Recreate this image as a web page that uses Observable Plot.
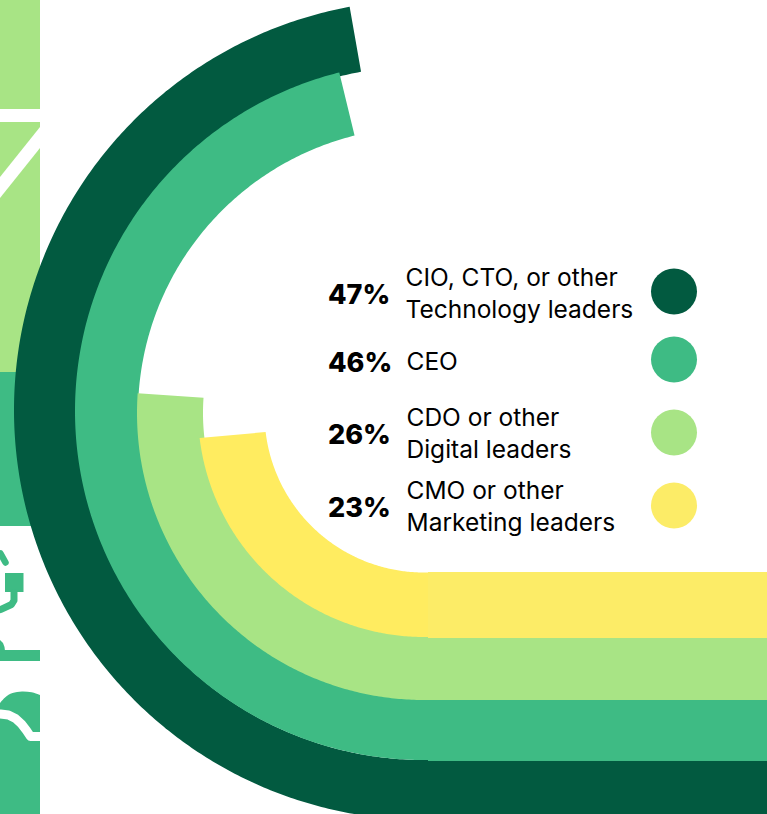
<!DOCTYPE html>
<html>
<head>
<meta charset="utf-8">
<script src="https://cdn.jsdelivr.net/npm/d3@7"></script>
<script src="https://cdn.jsdelivr.net/npm/@observablehq/plot@0.6"></script>
<style>html,body{margin:0;padding:0;background:#fff;overflow:hidden}svg{display:block}</style>
</head>
<body>
<div id="chart"></div>
<script>
// Chart data
const roles = ["CIO, CTO, or other\nTechnology leaders", "CEO", "CDO or other\nDigital leaders", "CMO or other\nMarketing leaders"];
const shares = [47, 46, 26, 23];

// Styles
const arcColors = ["#025A40", "#3EBB84", "#A8E485", "#FFEC60"];
const stripColors = ["#025A40", "#3EBB84", "#A8E485", "#FCEC67"];

// Layout
const W = 767, H = 814, CX = 424, CY = 413;
const innerR = [347, 286, 221, 159.5];
const outerR = [410, 349, 287, 226];
const outerCY = [410, 411, 413, 411];
const stripEdges = [[761, 830], [700, 761], [638, 700], [572, 638]];
const stripStart = 428;
const rowPct = [295, 363, 435, 508];
const rowText = [291, 359, 431, 504];
const rowDot = [291, 359, 432, 505];
const labelX = [405, 406, 406, 406];
const lineGap = 32, labelSize = 24.5, pctSize = 27;
const font = "Inter, sans-serif";

const sweep = d3.scaleLinear([0, 100], [0, 360]);
const rad = d => d * Math.PI / 180;

const arcs = shares.flatMap((v, i) => {
  const end = sweep(v) + 0.35;
  const start = {i, x1: stripStart, y1: CY + innerR[i], x2: stripStart, y2: outerCY[i] + outerR[i]};
  return [start].concat(d3.range(0, end, 0.5).concat(end).map(a => ({
    i,
    x1: CX - innerR[i] * Math.sin(rad(a)),
    y1: CY + innerR[i] * Math.cos(rad(a)),
    x2: CX - outerR[i] * Math.sin(rad(a)),
    y2: outerCY[i] + outerR[i] * Math.cos(rad(a))
  })));
});
const strips = shares.map((v, i) => ({x1: stripStart, x2: W, y1: stripEdges[i][0], y2: stripEdges[i][1], fill: stripColors[i]}));
const rows = shares.map((v, i) => ({pct: v + "%", role: roles[i], i}));

// Cropped illustration at the left edge
const lightBlocks = [{x1: 0, x2: 40, y1: 0, y2: 109}, {x1: 0, x2: 40, y1: 122, y2: 372}];
const greenBlocks = [{x1: 0, x2: 40, y1: 372, y2: 526}, {x1: 5, x2: 23.5, y1: 573, y2: 592}, {x1: 0, x2: 40, y1: 650, y2: 661}];
const slash = [{x1: 40, y1: 127, x2: 40, y2: 148}, {x1: 0, y1: 177, x2: 0, y2: 198}];
const stub = [[0, 553], [5, 562]];
const wire = [[13.5, 592], [13.5, 600], [11, 604], [0, 609]];
const bulb = [[0, 640], [3, 643], [4.5, 647], [5, 651]];
const domeTop = [[0, 703], [5, 697], [12, 692.5], [22, 691], [32, 692], [40, 695]];
const cable = [[0, 713.5], [8, 714.5], [15, 718], [21, 723.5], [26, 730], [30, 736], [40, 736]];

const px = d => ({x: d[0], y: d[1]});

const plot = Plot.plot({
  width: W, height: H,
  margin: 0,
  style: {background: "#fff"},
  x: {domain: [0, W], range: [0, W], axis: null},
  y: {domain: [0, H], range: [0, H], axis: null},
  marks: [
    Plot.rect(lightBlocks, {x1: "x1", x2: "x2", y1: "y1", y2: "y2", fill: "#A8E485"}),
    Plot.area(slash, {x1: "x1", y1: "y1", x2: "x2", y2: "y2", fill: "#fff"}),
    Plot.rect(greenBlocks, {x1: "x1", x2: "x2", y1: "y1", y2: "y2", fill: "#3EBB84"}),
    Plot.line(stub.map(px), {x: "x", y: "y", stroke: "#3EBB84", strokeWidth: 6.5, strokeLinecap: "round"}),
    Plot.line(wire.map(px), {x: "x", y: "y", stroke: "#3EBB84", strokeWidth: 7, strokeLinejoin: "round"}),
    Plot.areaY(bulb.map(d => ({x: d[0], y1: d[1], y2: 651})), {x: "x", y1: "y1", y2: "y2", fill: "#3EBB84"}),
    Plot.areaY(domeTop.map(d => ({x: d[0], y1: d[1], y2: H})), {x: "x", y1: "y1", y2: "y2", fill: "#3EBB84", curve: "basis"}),
    Plot.line(cable.map(px), {x: "x", y: "y", stroke: "#fff", strokeWidth: 9, curve: "linear"}),

    Plot.area(arcs, {x1: "x1", y1: "y1", x2: "x2", y2: "y2", z: "i", fill: d => arcColors[d.i]}),
    Plot.rect(strips, {x1: "x1", x2: "x2", y1: "y1", y2: "y2", fill: d => d.fill}),

    Plot.text(rows, {x: () => 327.5, y: d => rowPct[d.i], text: "pct", textAnchor: "start", fontFamily: font, fontWeight: 800, fontSize: pctSize, fill: "#000"}),
    Plot.text(rows, {x: d => labelX[d.i], y: d => rowText[d.i], text: "role", textAnchor: "start", lineHeight: lineGap / labelSize, fontFamily: font, fontSize: labelSize, fill: "#000"}),
    Plot.dot(rows, {x: () => 673.5, y: d => rowDot[d.i], r: 23, fill: d => stripColors[d.i], stroke: "none"})
  ]
});
document.getElementById("chart").append(plot);
</script>
</body>
</html>
